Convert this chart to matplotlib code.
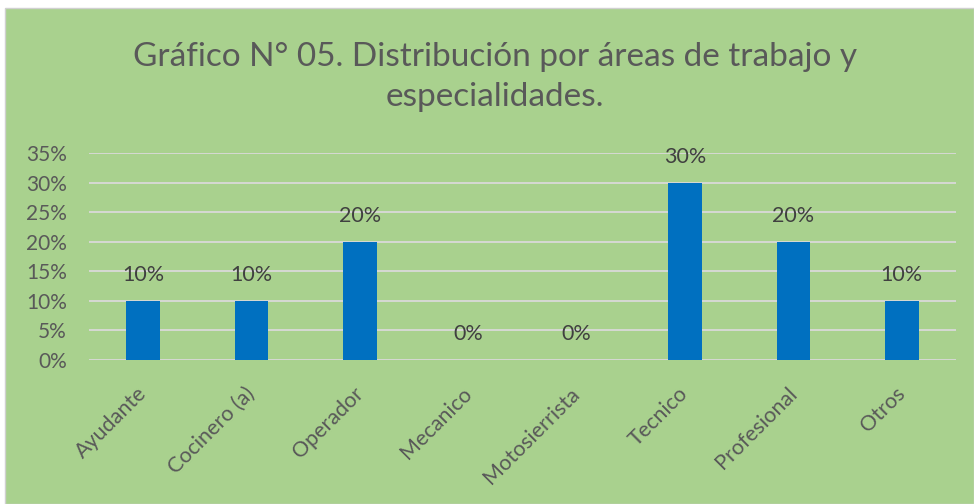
import matplotlib
matplotlib.use("Agg")
import matplotlib.pyplot as plt
import matplotlib.transforms as mtransforms
from matplotlib.patches import Rectangle
from matplotlib.ticker import FuncFormatter, MultipleLocator

categories = ["Ayudante", "Cocinero (a)", "Operador", "Mecanico", "Motosierrista",
              "Tecnico", "Profesional", "Otros"]
values = [10, 10, 20, 0, 0, 30, 20, 10]
title = "Gráfico N° 05. Distribución por áreas de trabajo y\nespecialidades."

W, H = 974, 504
fig = plt.figure(figsize=(W / 100, H / 100), dpi=100, facecolor="white")
plt.rcParams['font.family'] = ['Lato', 'DejaVu Sans']

green = "#A9D18E"
fig.patches.append(Rectangle((5 / W, 0), 1 - 5 / W, 1 - 8 / H, transform=fig.transFigure,
                             facecolor=green, edgecolor="#D0D0D0", linewidth=1, zorder=-10))

ax = fig.add_axes([89 / W, 1 - 360 / H, (956 - 89) / W, (360 - 153) / H])
ax.set_facecolor("none")
ax.set_zorder(5)
x = list(range(len(categories)))
ax.bar(x, values, width=0.31, color="#0070C0", zorder=3)
ax.set_xlim(-0.5, len(categories) - 0.5)
ax.set_ylim(0, 35)
ax.yaxis.set_major_locator(MultipleLocator(5))
ax.yaxis.set_major_formatter(FuncFormatter(lambda v, p: f"{int(round(v))}%"))
ax.grid(axis="y", color="#D9D9D9", linewidth=1.3, zorder=1)
for s in ax.spines.values():
    s.set_visible(False)
ax.tick_params(axis="both", length=0, labelsize=15, labelcolor="#595959")
ax.tick_params(axis="y", pad=16)
ax.set_xticks(x)
ax.set_xticklabels(categories, rotation=45, ha="right", rotation_mode="anchor",
                   fontsize=15.5)
ax.tick_params(axis="x", pad=17)
shift = mtransforms.ScaledTranslation(-7 / 100, 0, fig.dpi_scale_trans)
for lbl in ax.get_xticklabels():
    lbl.set_transform(lbl.get_transform() + shift)

for xi, v in zip(x, values):
    ax.annotate(f"{v}%", (xi, v), xytext=(0, 18.5), textcoords="offset points",
                ha="center", va="center", fontsize=15.5, color="#404040")

fig.text(495 / W, 1 - 77 / H, title, ha="center", va="center", fontsize=24,
         color="#595959", linespacing=1.4)

fig.savefig("out.png", dpi=100, facecolor="white")
